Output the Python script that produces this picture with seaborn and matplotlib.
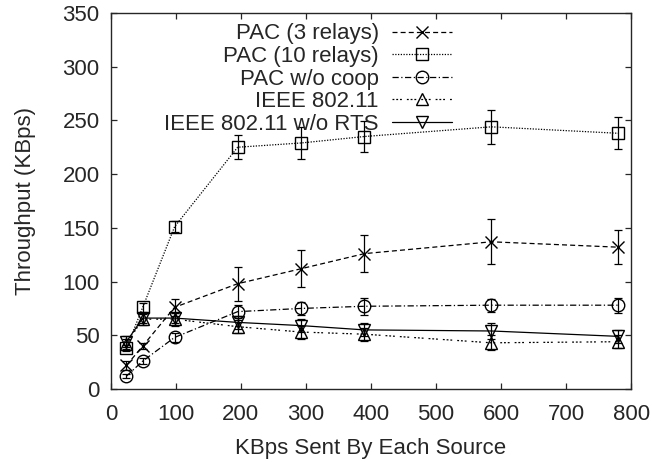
import numpy as np
import pandas as pd
import matplotlib
matplotlib.use('Agg')
import matplotlib.pyplot as plt
import seaborn as sns

# ---- data ----
kbps_sent = [24, 49, 98, 195, 293, 390, 585, 780]

pac3 = [22, 40, 76, 98, 112, 126, 137, 132]
pac3_err = [4, 3, 8, 16, 17, 17, 21, 16]

pac10 = [38, 76, 151, 225, 229, 235, 244, 238]
pac10_err = [3, 4, 5, 11, 15, 14, 16, 15]

pac_nocoop = [12, 26, 48, 72, 75, 77, 78, 78]
pac_nocoop_err = [2, 3, 4, 6, 6, 8, 6, 7]

ieee = [42, 65, 65, 58, 53, 51, 43, 44]
ieee_err = [5, 5, 6, 6, 6, 6, 7, 6]

ieee_norts = [44, 66, 66, 62, 59, 55, 54, 49]
ieee_norts_err = [5, 5, 5, 6, 6, 6, 7, 6]

series_names = ['PAC (3 relays)', 'PAC (10 relays)', 'PAC w/o coop',
                'IEEE 802.11', 'IEEE 802.11 w/o RTS']
series_vals = [pac3, pac10, pac_nocoop, ieee, ieee_norts]
series_errs = [pac3_err, pac10_err, pac_nocoop_err, ieee_err, ieee_norts_err]

# ---- styles ----
sns.set_style('ticks')
plt.rcParams['font.family'] = ['Liberation Sans', 'DejaVu Sans']
plt.rcParams.update({
    'font.size': 16,
    'axes.labelsize': 16,
    'xtick.labelsize': 16,
    'ytick.labelsize': 16,
    'legend.fontsize': 16,
    'xtick.direction': 'in',
    'ytick.direction': 'in',
    'xtick.top': True,
    'ytick.right': True,
    'axes.linewidth': 1.0,
})

markers = ['x', 's', 'o', '^', 'v']
msizes = [9, 9, 9, 8.5, 8.5]
linestyles = [(0, (4, 2.5)), (0, (1, 1.2)), (0, (5, 2, 1, 2)),
              (0, (1.5, 1.5, 1.5, 1.5, 1.5, 4)), '-']

fig = plt.figure(figsize=(6.52, 4.62), dpi=100, facecolor='white')
ax = fig.add_axes([0.170, 0.158, 0.798, 0.814])

for name, vals, errs, mk, ms, ls in zip(series_names, series_vals, series_errs,
                                        markers, msizes, linestyles):
    df = pd.DataFrame({'x': kbps_sent, 'y': vals})
    sns.lineplot(data=df, x='x', y='y', ax=ax, color='black', linewidth=0.9,
                 linestyle=ls, marker=mk, markersize=ms, markerfacecolor='none',
                 markeredgecolor='black', markeredgewidth=1.0, label=name)
    ax.errorbar(kbps_sent, vals, yerr=errs, fmt='none', ecolor='black',
                elinewidth=0.9, capsize=3, capthick=0.9, label='_nolegend_')

ax.set_xlim(0, 800)
ax.set_ylim(0, 350)
ax.set_xticks(np.arange(0, 801, 100))
ax.set_yticks(np.arange(0, 351, 50))
ax.tick_params(length=4, width=0.9, pad=8)
ax.tick_params(axis='x', pad=11)
ax.set_xlabel('KBps Sent By Each Source', labelpad=9.5)
ax.set_ylabel('Throughput (KBps)', labelpad=19)

# markerfirst=False -> labels on the left, right-aligned, handles on the right
leg = ax.legend(loc='upper right', bbox_to_anchor=(0.656, 0.972), frameon=False,
                markerfirst=False, handlelength=2.7, handletextpad=0.6,
                labelspacing=0.07, borderpad=0.0, borderaxespad=0.0)

fig.savefig('out.png', dpi=100, facecolor='white')
